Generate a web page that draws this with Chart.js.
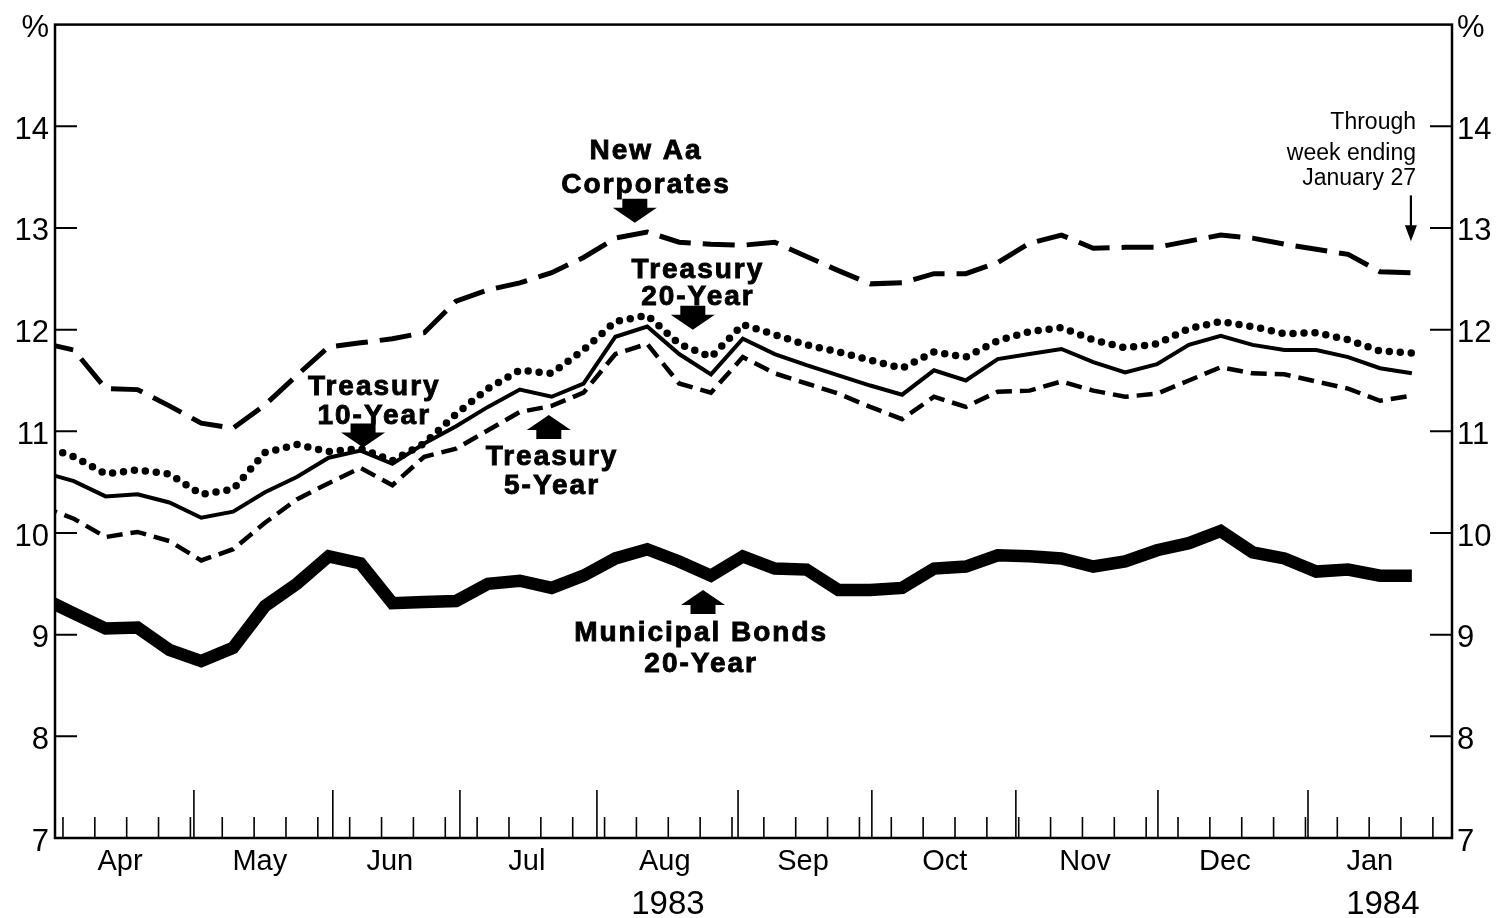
<!DOCTYPE html>
<html>
<head>
<meta charset="utf-8">
<title>Bond yields 1983-1984</title>
<script src="https://cdn.jsdelivr.net/npm/chart.js@4.4.1/dist/chart.umd.min.js"></script>
<style>
  html, body { margin: 0; padding: 0; background: #fff; }
  #chart { display: block; }
</style>
</head>
<body>
<canvas id="chart" width="1497" height="918"></canvas>
<script>
// ------------------- DATA -------------------
// weekly observations, index 0 = first week of April 1983, 43 = week ending Jan 27 1984
const corporates = [11.87, 11.80, 11.42, 11.41, 11.25, 11.08, 11.03, 11.26, 11.55, 11.83,
    11.87, 11.91, 11.97, 12.28, 12.39, 12.46, 12.56, 12.71, 12.90, 12.96,
    12.86, 12.84, 12.83, 12.86, 12.72, 12.58, 12.45, 12.46, 12.55, 12.55,
    12.66, 12.85, 12.93, 12.80, 12.81, 12.81, 12.87, 12.93, 12.90, 12.84,
    12.79, 12.74, 12.57, 12.56];

const treasury20 = [10.86, 10.75, 10.58, 10.62, 10.58, 10.38, 10.43, 10.79, 10.87, 10.80,
    10.83, 10.71, 10.88, 11.17, 11.42, 11.60, 11.57, 11.80, 12.08, 12.14,
    11.86, 11.73, 12.05, 11.95, 11.85, 11.78, 11.70, 11.62, 11.78, 11.73,
    11.89, 11.98, 12.02, 11.90, 11.82, 11.86, 12.01, 12.08, 12.03, 11.96,
    11.97, 11.90, 11.79, 11.77];

const treasury10 = [10.60, 10.51, 10.36, 10.38, 10.30, 10.15, 10.21, 10.40, 10.55, 10.74,
    10.81, 10.68, 10.88, 11.05, 11.24, 11.41, 11.34, 11.47, 11.93, 12.03,
    11.76, 11.56, 11.91, 11.76, 11.65, 11.55, 11.45, 11.36, 11.60, 11.50,
    11.71, 11.76, 11.81, 11.68, 11.58, 11.66, 11.85, 11.94, 11.85, 11.80,
    11.80, 11.73, 11.62, 11.57];

const treasury5 = [10.26, 10.14, 9.96, 10.01, 9.92, 9.73, 9.84, 10.10, 10.33, 10.49,
    10.64, 10.47, 10.75, 10.83, 11.01, 11.19, 11.25, 11.38, 11.76, 11.86,
    11.47, 11.38, 11.73, 11.57, 11.47, 11.37, 11.24, 11.12, 11.34, 11.24,
    11.39, 11.40, 11.49, 11.40, 11.34, 11.37, 11.50, 11.63, 11.57, 11.56,
    11.49, 11.42, 11.30, 11.35];

const municipal = [9.36, 9.21, 9.06, 9.07, 8.85, 8.74, 8.87, 9.28, 9.50, 9.77,
    9.70, 9.31, 9.32, 9.33, 9.50, 9.53, 9.46, 9.58, 9.75, 9.84,
    9.72, 9.58, 9.77, 9.65, 9.64, 9.44, 9.44, 9.46, 9.65, 9.67,
    9.78, 9.77, 9.75, 9.67, 9.72, 9.83, 9.90, 10.02, 9.81, 9.75,
    9.62, 9.64, 9.58, 9.58];

// x axis, in week units
const months = ['Apr', 'May', 'Jun', 'Jul', 'Aug', 'Sep', 'Oct', 'Nov', 'Dec', 'Jan'];
const monthMid = [2.45, 6.84, 10.92, 15.22, 19.55, 23.89, 28.34, 32.74, 37.13, 41.68];
const monthEdges = [4.77, 9.13, 13.12, 17.42, 21.85, 26.05, 30.57, 35.03, 39.74];
const years = ['1983', '1984'];
const yearAt = [19.65, 42.09];
const weekTickOffset = 0.66;

const yTicks = [7, 8, 9, 10, 11, 12, 13, 14];

const FONT = '"Liberation Sans", Arial, Helvetica, sans-serif';

// ------------------- LABELS ON THE PLOT -------------------
// positions in data units (week, percent); dir 1 = arrow points down
const callouts = [
    { lines: ['New Aa', 'Corporates'], x: 18.93, y: [13.75, 13.42], arrow: { x: 18.61, y: 13.05, dir: 1 } },
    { lines: ['Treasury', '20-Year'], x: 20.56, y: [12.58, 12.32], arrow: { x: 20.43, y: 12.0, dir: 1 } },
    { lines: ['Treasury', '10-Year'], x: 10.40, y: [11.43, 11.15], arrow: { x: 10.08, y: 10.84, dir: 1 } },
    { lines: ['Treasury', '5-Year'], x: 15.98, y: [10.74, 10.46], arrow: { x: 15.91, y: 11.16, dir: -1 } },
    { lines: ['Municipal Bonds', '20-Year'], x: 20.66, y: [9.01, 8.71], arrow: { x: 20.75, y: 9.44, dir: -1 } }
];

function blockArrow(ctx, x, y, dir) {
    // y is the tip
    const headH = 15, headW = 22, shaftH = 9, shaftW = 12.5;
    ctx.beginPath();
    ctx.moveTo(x, y);
    ctx.lineTo(x - headW, y - dir * headH);
    ctx.lineTo(x - shaftW, y - dir * headH);
    ctx.lineTo(x - shaftW, y - dir * (headH + shaftH));
    ctx.lineTo(x + shaftW, y - dir * (headH + shaftH));
    ctx.lineTo(x + shaftW, y - dir * headH);
    ctx.lineTo(x + headW, y - dir * headH);
    ctx.closePath();
    ctx.fill();
}

const framePlugin = {
    id: 'frame',
    afterDraw(chart) {
        const ctx = chart.ctx;
        const a = chart.chartArea;
        const xs = chart.scales.x;
        const ys = chart.scales.y;

        ctx.save();
        ctx.strokeStyle = '#000';
        ctx.fillStyle = '#000';

        // frame
        ctx.lineWidth = 2.5;
        ctx.strokeRect(a.left, a.top, a.right - a.left, a.bottom - a.top);

        // y ticks, pointing inward on both sides
        ctx.lineWidth = 2;
        yTicks.forEach(v => {
            const py = ys.getPixelForValue(v);
            ctx.beginPath();
            ctx.moveTo(a.left, py);
            ctx.lineTo(a.left + 22, py);
            ctx.moveTo(a.right - 22, py);
            ctx.lineTo(a.right, py);
            ctx.stroke();
        });

        // weekly ticks + taller month ticks
        ctx.lineWidth = 1.6;
        for (let i = 0; i < corporates.length; i++) {
            const px = xs.getPixelForValue(i + weekTickOffset);
            if (px > a.right - 2) continue;
            ctx.beginPath();
            ctx.moveTo(px, a.bottom);
            ctx.lineTo(px, a.bottom - 21);
            ctx.stroke();
        }
        monthEdges.forEach(v => {
            const px = xs.getPixelForValue(v);
            ctx.beginPath();
            ctx.moveTo(px, a.bottom);
            ctx.lineTo(px, a.bottom - 48);
            ctx.stroke();
        });

        // years under the month names
        ctx.font = '33px ' + FONT;
        ctx.textAlign = 'center';
        ctx.textBaseline = 'middle';
        years.forEach((t, i) => {
            ctx.fillText(t, xs.getPixelForValue(yearAt[i]), a.bottom + 67);
        });

        // series names and arrows
        ctx.font = 'bold 28px ' + FONT;
        ctx.letterSpacing = '2px';
        ctx.lineWidth = 0.9;
        callouts.forEach(c => {
            const px = xs.getPixelForValue(c.x);
            c.lines.forEach((t, i) => {
                const py = ys.getPixelForValue(c.y[i]);
                ctx.fillText(t, px + 1, py);
                ctx.strokeText(t, px + 1, py);
            });
            blockArrow(ctx, xs.getPixelForValue(c.arrow.x), ys.getPixelForValue(c.arrow.y), c.arrow.dir);
        });
        ctx.letterSpacing = '0px';

        // "Through week ending January 27" note
        ctx.font = '23px ' + FONT;
        ctx.textAlign = 'right';
        const nx = xs.getPixelForValue(43.13);
        ctx.fillText('Through', nx, ys.getPixelForValue(14.04));
        ctx.fillText('week ending', nx, ys.getPixelForValue(13.73));
        ctx.fillText('January 27', nx, ys.getPixelForValue(13.48));

        const ax = xs.getPixelForValue(42.97);
        const top = ys.getPixelForValue(13.32);
        const tip = ys.getPixelForValue(12.87);
        ctx.lineWidth = 2.2;
        ctx.beginPath();
        ctx.moveTo(ax, top);
        ctx.lineTo(ax, tip - 10);
        ctx.stroke();
        ctx.beginPath();
        ctx.moveTo(ax, tip);
        ctx.lineTo(ax - 6, tip - 16);
        ctx.lineTo(ax + 6, tip - 16);
        ctx.closePath();
        ctx.fill();

        ctx.restore();
    }
};

// ------------------- CHART -------------------
function series(values, style) {
    return Object.assign({
        data: values.map((v, i) => ({ x: i, y: v })),
        borderColor: '#000',
        pointRadius: 0,
        tension: 0,
        clip: 0,
        fill: false
    }, style);
}

const yAxis = (position, width) => ({
    position: position,
    min: 7,
    max: 15,
    afterBuildTicks: s => { s.ticks = yTicks.concat([15]).map(v => ({ value: v })); },
    ticks: {
        color: '#000',
        padding: position === 'left' ? 6 : 5,
        labelOffset: 4,
        font: { family: FONT, size: 31 },
        callback: v => v === 15 ? '%' : v
    },
    grid: { display: false, drawTicks: false },
    border: { display: false },
    afterFit: s => { s.width = width; }
});

new Chart(document.getElementById('chart'), {
    type: 'line',
    data: {
        datasets: [
            series(municipal, { label: 'Municipal Bonds 20-Year', borderWidth: 12.5, borderJoinStyle: 'miter' }),
            series(treasury5, { label: 'Treasury 5-Year', borderWidth: 4.5, borderDash: [16, 8] }),
            series(treasury10, { label: 'Treasury 10-Year', borderWidth: 4 }),
            series(treasury20, { label: 'Treasury 20-Year', borderWidth: 7.5, borderDash: [0, 11], borderCapStyle: 'round' }),
            series(corporates, { label: 'New Aa Corporates', borderWidth: 5, borderDash: [32, 12] })
        ]
    },
    options: {
        responsive: false,
        animation: false,
        layout: { padding: { top: 23, left: 0, right: 0, bottom: 0 } },
        plugins: {
            legend: { display: false },
            tooltip: { enabled: false }
        },
        scales: {
            x: {
                type: 'linear',
                min: 0.41,
                max: 44.26,
                afterBuildTicks: s => { s.ticks = monthMid.map(v => ({ value: v })); },
                ticks: {
                    color: '#000',
                    autoSkip: false,
                    maxRotation: 0,
                    padding: 7,
                    font: { family: FONT, size: 29 },
                    callback: (v, i) => months[i]
                },
                grid: { display: false, drawTicks: false },
                border: { display: false },
                afterFit: s => { s.height = 80; }
            },
            y: yAxis('left', 55),
            y2: yAxis('right', 45)
        }
    },
    plugins: [framePlugin]
});
</script>
</body>
</html>
